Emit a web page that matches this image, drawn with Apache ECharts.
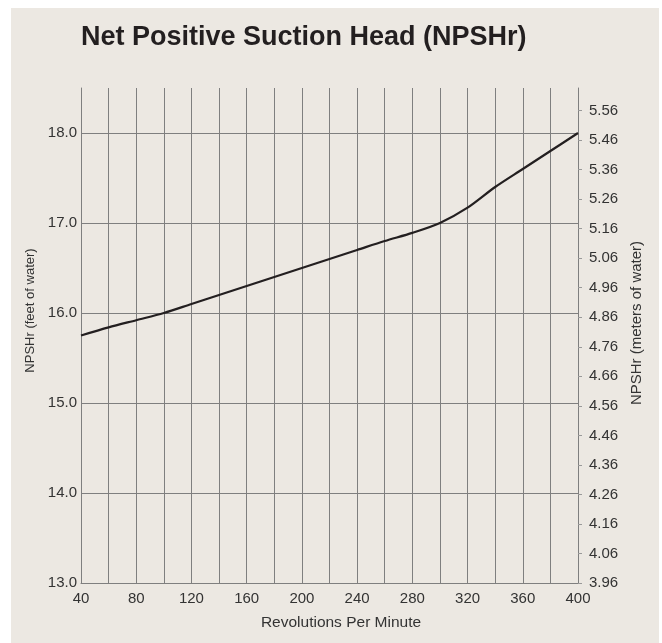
<!DOCTYPE html>
<html>
<head>
<meta charset="utf-8">
<script src="https://cdn.jsdelivr.net/npm/echarts@6/dist/echarts.min.js"></script>
<style>
  html, body { margin: 0; padding: 0; background: #ffffff; }
  #wrap { position: relative; width: 662px; height: 643px; }
  #bg { position: absolute; left: 11px; top: 8px; width: 648px; height: 635px; background: #ece8e2; }
  #chart { position: absolute; left: 0; top: 0; width: 662px; height: 643px; }
</style>
</head>
<body>
<div id="wrap"><div id="bg"></div><div id="chart"></div></div>
<script>
// Data
const titleText = 'Net Positive Suction Head (NPSHr)';
const rpm = [40, 60, 80, 100, 120, 140, 160, 180, 200, 220, 240, 260, 280, 300, 320, 340, 360, 380, 400];
const npshFeet = [15.75, 15.84, 15.92, 16.0, 16.1, 16.2, 16.3, 16.4, 16.5, 16.6, 16.7, 16.8, 16.89, 17.0, 17.17, 17.4, 17.6, 17.8, 18.0];
const xTickLabels = [40, 80, 120, 160, 200, 240, 280, 320, 360, 400];
const leftTickLabels = [13, 14, 15, 16, 17, 18];
const rightTickLabels = ['3.96', '4.06', '4.16', '4.26', '4.36', '4.46', '4.56', '4.66', '4.76', '4.86', '4.96', '5.06', '5.16', '5.26', '5.36', '5.46', '5.56'];
const feetMin = 13, feetMax = 18.5;
const ftToM = 0.3048;

const font = "'Liberation Sans', Arial, Helvetica, sans-serif";
const gridColor = '#7f7f7f';
const textColor = '#333333';

const chart = echarts.init(document.getElementById('chart'), null, { renderer: 'canvas' });
const rightMin = Number(rightTickLabels[0]);
const rightMax = rightMin + (feetMax - feetMin) * ftToM;

chart.setOption({
  backgroundColor: 'transparent',
  animation: false,
  title: {
    text: titleText,
    left: 81,
    top: 24,
    padding: 0,
    textStyle: { fontFamily: font, fontWeight: 'bold', fontSize: 27, color: '#231f20' }
  },
  grid: { left: 81, right: 84, top: 88, bottom: 60, containLabel: false },
  xAxis: {
    type: 'value',
    min: 40, max: 400, interval: 20,
    name: 'Revolutions Per Minute',
    nameLocation: 'middle',
    nameGap: 32,
    nameTextStyle: { fontFamily: font, fontSize: 15.5, color: textColor, padding: [0, 0, 0, 23] },
    axisLine: { show: true, lineStyle: { color: gridColor, width: 1 } },
    axisTick: { show: false },
    axisLabel: {
      customValues: xTickLabels,
      margin: 8,
      fontFamily: font, fontSize: 15, color: textColor,
      formatter: v => String(v)
    },
    splitLine: { show: true, showMinLine: true, showMaxLine: true, lineStyle: { color: gridColor, width: 1 } }
  },
  yAxis: [
    {
      type: 'value',
      position: 'left',
      min: feetMin, max: feetMax, interval: 1,
      name: 'NPSHr (feet of water)',
      nameLocation: 'middle',
      nameRotate: 90,
      nameGap: 35,
      nameTextStyle: { fontFamily: font, fontSize: 13, color: textColor, padding: [0, 0, 0, 50] },
      axisLine: { show: true, lineStyle: { color: gridColor, width: 1 } },
      axisTick: { show: false },
      axisLabel: {
        customValues: leftTickLabels,
        margin: 4,
        fontFamily: font, fontSize: 15, color: textColor,
        formatter: v => Number(v).toFixed(1)
      },
      splitLine: { show: true, showMinLine: false, showMaxLine: false, lineStyle: { color: gridColor, width: 1 } }
    },
    {
      type: 'value',
      position: 'right',
      min: rightMin, max: rightMax,
      name: 'NPSHr (meters of water)',
      nameLocation: 'middle',
      nameRotate: 90,
      nameGap: 48,
      nameTextStyle: { fontFamily: font, fontSize: 15, color: textColor, padding: [0, 0, 0, 25] },
      axisLine: { show: true, lineStyle: { color: gridColor, width: 1 } },
      axisTick: {
        show: true, inside: false, length: 4,
        customValues: rightTickLabels.map(Number),
        lineStyle: { color: '#999999', width: 1 }
      },
      axisLabel: {
        customValues: rightTickLabels.map(Number),
        margin: 11,
        fontFamily: font, fontSize: 15, color: textColor,
        formatter: v => Number(v).toFixed(2)
      },
      splitLine: { show: false }
    }
  ],
  series: [{
    type: 'line',
    yAxisIndex: 0,
    data: rpm.map((r, i) => [r, npshFeet[i]]),
    smooth: 0.3,
    showSymbol: false,
    lineStyle: { color: '#231f20', width: 2.2 },
    silent: true
  }]
});
</script>
</body>
</html>
